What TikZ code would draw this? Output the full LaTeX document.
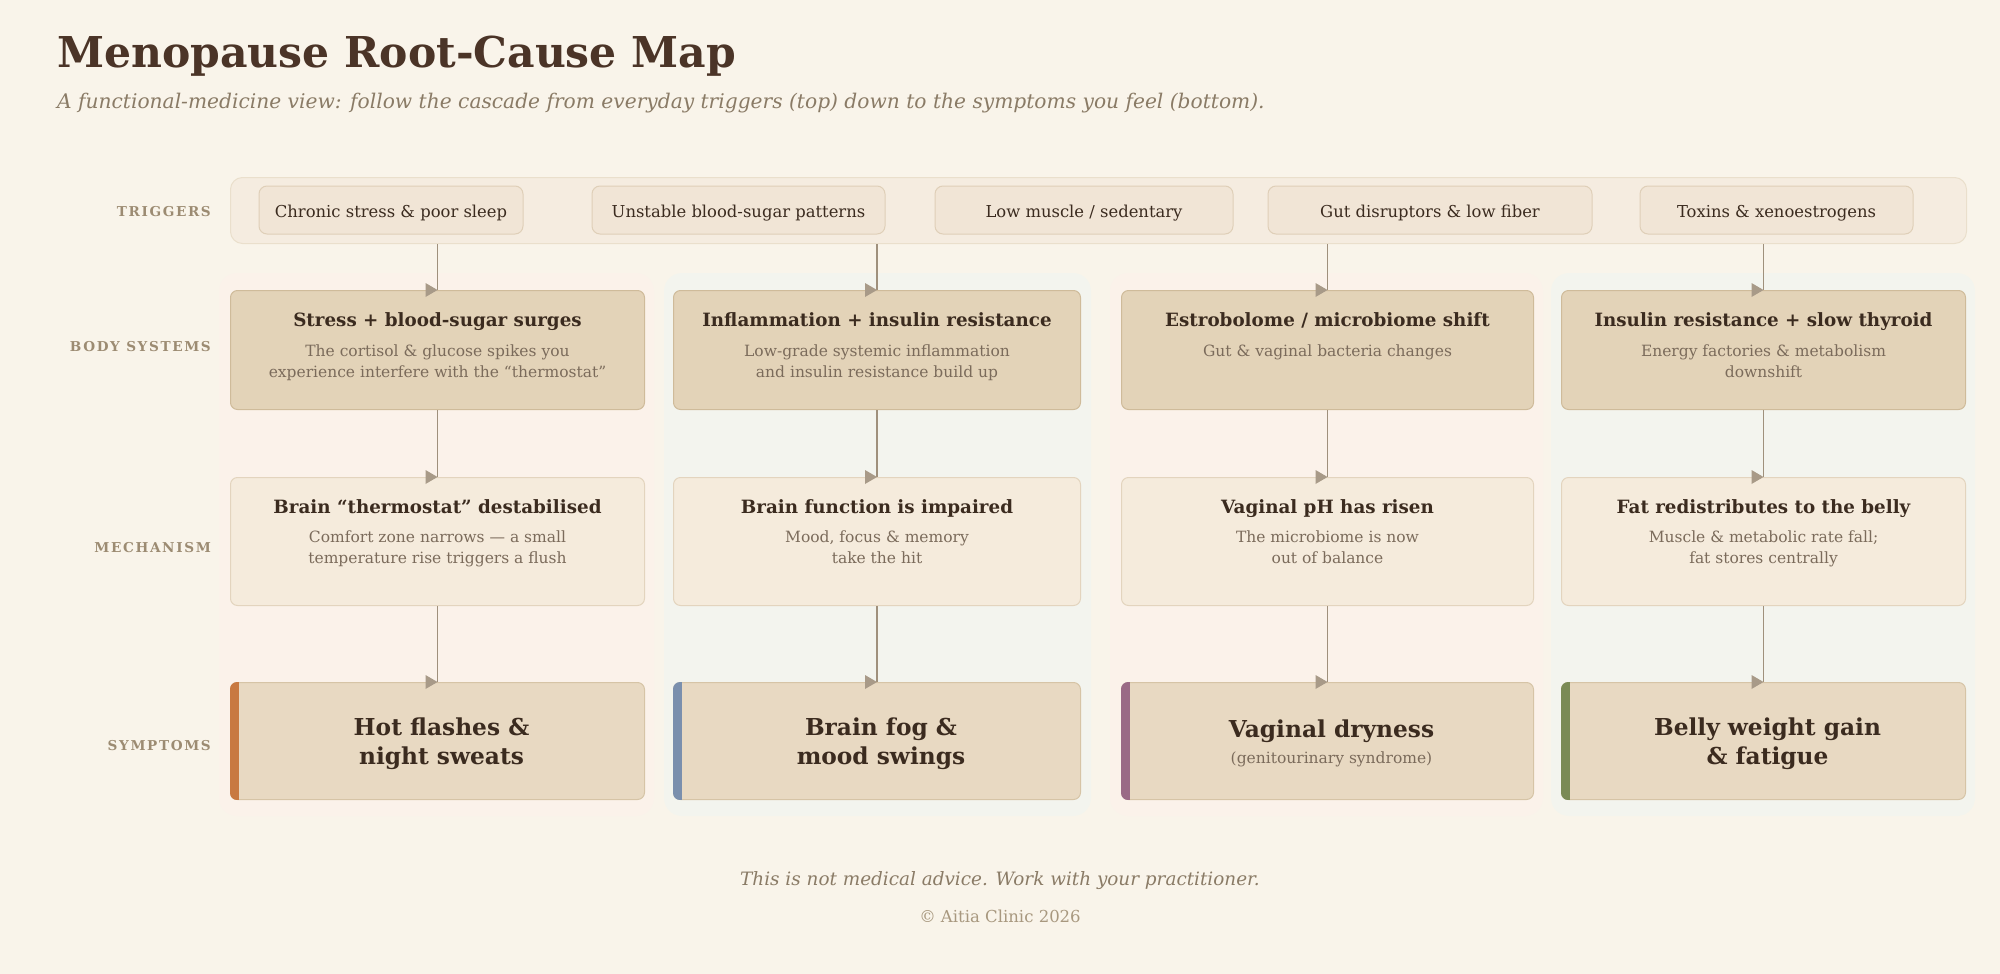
\documentclass[tikz,border=0pt]{standalone}
\usepackage{fontspec}
\setmainfont{DejaVu Serif}
\newfontfamily\lblfont[LetterSpace=12]{DejaVu Serif}
\usetikzlibrary{calc}
\definecolor{bg}{HTML}{F9F4EA}
\definecolor{bandfill}{HTML}{F5ECE0}
\definecolor{banddraw}{HTML}{EADFCC}
\definecolor{pillfill}{HTML}{F1E5D6}
\definecolor{pilldraw}{HTML}{DFCFB8}
\definecolor{colwarm}{HTML}{FBF2EA}
\definecolor{colcool}{HTML}{F3F4EE}
\definecolor{bodyfill}{HTML}{E3D3B8}
\definecolor{bodydraw}{HTML}{CFBB9A}
\definecolor{mechfill}{HTML}{F5EBDC}
\definecolor{mechdraw}{HTML}{E3D4BE}
\definecolor{symfill}{HTML}{E8D9C2}
\definecolor{symdraw}{HTML}{D6C4A6}
\definecolor{linec}{HTML}{9F907C}
\definecolor{arrowc}{HTML}{A89A88}
\definecolor{titlec}{HTML}{4B3427}
\definecolor{subc}{HTML}{8A7B66}
\definecolor{rowc}{HTML}{9C8B72}
\definecolor{headc}{HTML}{3B2B1F}
\definecolor{descc}{HTML}{7B6B5B}
\definecolor{footc}{HTML}{A8987F}
\definecolor{acc1}{HTML}{C87941}
\definecolor{acc2}{HTML}{7A8FAD}
\definecolor{acc3}{HTML}{9A6A86}
\definecolor{acc4}{HTML}{7A8A55}
\tikzset{
  cardbox/.style={draw, line width=1pt, rounded corners=7pt, inner sep=0pt, anchor=north west},
  bodybox/.style={cardbox, fill=bodyfill, draw=bodydraw, minimum height=119pt},
  mechbox/.style={cardbox, fill=mechfill, draw=mechdraw, minimum height=128pt},
  symbox/.style={cardbox, fill=symfill, draw=symdraw, minimum height=117pt},
  pill/.style={draw=pilldraw, fill=pillfill, line width=1pt, rounded corners=8pt, minimum height=48pt, inner sep=0pt, text=headc, font=\fontsize{16.4}{19}\selectfont, text height=18pt, text depth=3.5pt},
  rowlbl/.style={anchor=base east, text=rowc, font=\fontsize{13.6}{15}\bfseries\lblfont, inner sep=0pt},
  head/.style={anchor=base, align=center, text=headc, font=\fontsize{18.3}{21}\bfseries\selectfont, inner sep=0pt},
  desc/.style={anchor=base, align=center, text=descc, font=\fontsize{15.5}{21}\selectfont, inner sep=0pt},
  symhead/.style={anchor=base, align=center, text=headc, font=\fontsize{23.3}{29}\bfseries\selectfont, inner sep=0pt},
  conn/.style={draw=linec, line width=1.3pt},
  colband/.style={rounded corners=18pt, draw=none},
}
\newcommand{\tipat}[1]{\fill[arrowc] (#1) -- ++(-12,-7) -- ++(0,14) -- cycle;}
\newcommand{\accentbar}[2]{%
  \begin{scope}
    \clip[rounded corners=7pt] (#1.north west) rectangle (#1.south east);
    \fill[#2] (#1.north west) rectangle ([xshift=8.5pt]#1.south west);
  \end{scope}}
\begin{document}
\begin{tikzpicture}[x=1pt,y=-1pt]
\fill[bg] (0,0) rectangle (2000,974);
\useasboundingbox (0,0) rectangle (2000,974);

% title
\node[anchor=base west, inner sep=0pt, text=titlec, font=\fontsize{42.5}{50}\bfseries\selectfont] (title) at (57,67) {Menopause Root-Cause Map};
\node[anchor=base west, inner sep=0pt, text=subc, font=\fontsize{20.2}{23}\itshape\selectfont] (subtitle) at (57,108) {A functional-medicine view: follow the cascade from everyday triggers (top) down to the symptoms you feel (bottom).};

% column bands
\fill[colband, fill=colwarm] (219,273) rectangle (654,816);
\fill[colband, fill=colcool] (664,273) rectangle (1091,816);
\fill[colband, fill=colwarm] (1110,273) rectangle (1543,816);
\fill[colband, fill=colcool] (1551,273) rectangle (1975,816);

% triggers band
\node[draw=banddraw, fill=bandfill, line width=1pt, rounded corners=12pt, anchor=north west, minimum width=1736pt, minimum height=66pt, inner sep=0pt] (band) at (230,177) {};
\node[pill, minimum width=264pt] (t1) at (391,210) {Chronic stress \& poor sleep};
\node[pill, minimum width=293pt] (t2) at (738.5,210) {Unstable blood-sugar patterns};
\node[pill, minimum width=298pt] (t3) at (1084,210) {Low muscle / sedentary};
\node[pill, minimum width=324pt] (t4) at (1430,210) {Gut disruptors \& low fiber};
\node[pill, minimum width=273pt] (t5) at (1776.5,210) {Toxins \& xenoestrogens};

% row labels
\node[rowlbl] (l1) at (211,216) {TRIGGERS};
\node[rowlbl] (l2) at (211,351) {BODY SYSTEMS};
\node[rowlbl] (l3) at (211,552) {MECHANISM};
\node[rowlbl] (l4) at (211,750) {SYMPTOMS};

% body systems
\node[bodybox, minimum width=414pt] (b1) at (230,290) {};
\node[bodybox, minimum width=407pt] (b2) at (673,290) {};
\node[bodybox, minimum width=412pt] (b3) at (1121,290) {};
\node[bodybox, minimum width=404pt] (b4) at (1561,290) {};
\node[head] (b1h) at ($(b1.north)+(0,36.5)$) {Stress + blood-sugar surges};
\node[desc] (b1d) at ($(b1.north)+(0,87)$) {The cortisol \& glucose spikes you\\experience interfere with the “thermostat”};
\node[head] (b2h) at ($(b2.north)+(0,36.5)$) {Inflammation + insulin resistance};
\node[desc] (b2d) at ($(b2.north)+(0,87)$) {Low-grade systemic inflammation\\and insulin resistance build up};
\node[head] (b3h) at ($(b3.north)+(0,36.5)$) {Estrobolome / microbiome shift};
\node[desc] (b3d) at ($(b3.north)+(0,66)$) {Gut \& vaginal bacteria changes};
\node[head] (b4h) at ($(b4.north)+(0,36.5)$) {Insulin resistance + slow thyroid};
\node[desc] (b4d) at ($(b4.north)+(0,87)$) {Energy factories \& metabolism\\downshift};

% mechanism
\node[mechbox, minimum width=414pt] (m1) at (230,477) {};
\node[mechbox, minimum width=407pt] (m2) at (673,477) {};
\node[mechbox, minimum width=412pt] (m3) at (1121,477) {};
\node[mechbox, minimum width=404pt] (m4) at (1561,477) {};
\node[head] (m1h) at ($(m1.north)+(0,36)$) {Brain “thermostat” destabilised};
\node[desc] (m1d) at ($(m1.north)+(0,86)$) {Comfort zone narrows — a small\\temperature rise triggers a flush};
\node[head] (m2h) at ($(m2.north)+(0,36)$) {Brain function is impaired};
\node[desc] (m2d) at ($(m2.north)+(0,86)$) {Mood, focus \& memory\\take the hit};
\node[head] (m3h) at ($(m3.north)+(0,36)$) {Vaginal pH has risen};
\node[desc] (m3d) at ($(m3.north)+(0,86)$) {The microbiome is now\\out of balance};
\node[head] (m4h) at ($(m4.north)+(0,36)$) {Fat redistributes to the belly};
\node[desc] (m4d) at ($(m4.north)+(0,86)$) {Muscle \& metabolic rate fall;\\fat stores centrally};

% symptoms
\node[symbox, minimum width=414pt] (s1) at (230,682) {};
\node[symbox, minimum width=407pt] (s2) at (673,682) {};
\node[symbox, minimum width=412pt] (s3) at (1121,682) {};
\node[symbox, minimum width=404pt] (s4) at (1561,682) {};
\accentbar{s1}{acc1}
\accentbar{s2}{acc2}
\accentbar{s3}{acc3}
\accentbar{s4}{acc4}
\node[symhead] (s1h) at ($(s1.north)+(4,82)$) {Hot flashes \&\\night sweats};
\node[symhead] (s2h) at ($(s2.north)+(4,82)$) {Brain fog \&\\mood swings};
\node[symhead] (s3h) at ($(s3.north)+(4,55)$) {Vaginal dryness};
\node[desc] (s3d) at ($(s3.north)+(4,81)$) {(genitourinary syndrome)};
\node[symhead] (s4h) at ($(s4.north)+(4,82)$) {Belly weight gain\\\& fatigue};

% connectors
\foreach \i in {1,2,3,4}{
  \draw[conn] (band.south -| b\i.north) -- (b\i.north);
  \tipat{b\i.north}
  \draw[conn] (b\i.south) -- (m\i.north);
  \tipat{m\i.north}
  \draw[conn] (m\i.south) -- (s\i.north);
  \tipat{s\i.north}
}

% footer
\node[anchor=base, inner sep=0pt, text=subc, font=\fontsize{18.4}{21}\itshape\selectfont] (foot1) at (1000,885) {This is not medical advice. Work with your practitioner.};
\node[anchor=base, inner sep=0pt, text=footc, font=\fontsize{16.5}{19}\selectfont] (foot2) at (1000,922) {© Aitia Clinic 2026};
\end{tikzpicture}
\end{document}
